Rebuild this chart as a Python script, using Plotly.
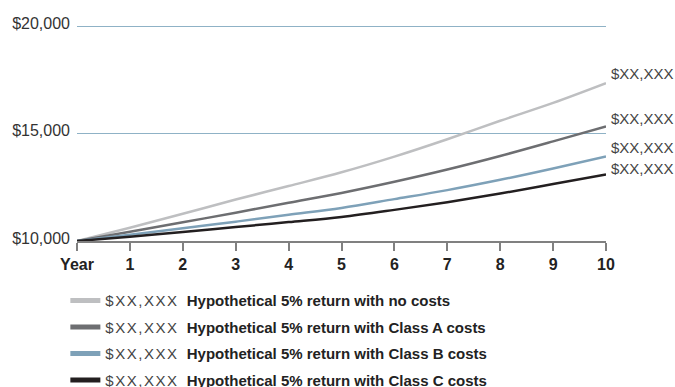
import plotly.graph_objects as go

years = [0, 1, 2, 3, 4, 5, 6, 7, 8, 9, 10]
year_labels = ["Year", "1", "2", "3", "4", "5", "6", "7", "8", "9", "10"]

no_costs = [10000, 10620, 11270, 11930, 12560, 13200, 13930, 14740, 15600, 16430, 17350]
class_a = [10000, 10430, 10870, 11320, 11780, 12240, 12760, 13330, 13960, 14640, 15340]
class_b = [10000, 10290, 10590, 10900, 11220, 11540, 11950, 12370, 12850, 13380, 13940]
class_c = [10000, 10200, 10420, 10650, 10880, 11120, 11450, 11810, 12210, 12650, 13100]

series_names = [
    "Hypothetical 5% return with no costs",
    "Hypothetical 5% return with Class A costs",
    "Hypothetical 5% return with Class B costs",
    "Hypothetical 5% return with Class C costs",
]
end_label = "$XX,XXX"
colors = ["#bebfc1", "#6d6e71", "#7ea1b8", "#231f20"]
label_shifts = [10, 8, 9, 6]

y_ticks = [10000, 15000, 20000]
y_tick_text = ["$10,000", "$15,000", "$20,000"]

FONT = "Liberation Sans, Arial, Helvetica, sans-serif"

fig = go.Figure()
all_series = [no_costs, class_a, class_b, class_c]
for i, (vals, name, col) in enumerate(zip(all_series, series_names, colors)):
    fig.add_trace(go.Scatter(
        x=years, y=vals, mode="lines",
        line=dict(color=col, width=2.5, shape="spline"),
        showlegend=False, hoverinfo="skip",
    ))
    # legend entry (thicker swatch, as in the reference)
    fig.add_trace(go.Scatter(
        x=[None], y=[None], mode="lines",
        line=dict(color=col, width=5),
        name=f"<span style='letter-spacing:1.5px;color:#444'>{end_label}</span>  <b>{name}</b>",
        legendgroup=f"g{i}", showlegend=True, hoverinfo="skip",
    ))
    fig.add_annotation(
        x=years[-1], y=vals[-1], text=end_label, showarrow=False,
        xanchor="left", yanchor="middle", xshift=3, yshift=label_shifts[i],
        font=dict(family=FONT, size=15, color="#444"),
    )

fig.update_layout(
    width=675, height=387,
    margin=dict(l=77, r=69, t=22, b=146, autoexpand=False),
    paper_bgcolor="white", plot_bgcolor="white",
    font=dict(family=FONT, size=15, color="#333"),
    showlegend=True,
    legend=dict(
        x=-0.022, y=-0.198, xanchor="left", yanchor="top",
        orientation="v", tracegroupgap=4,
        font=dict(family=FONT, size=15, color="#222"),
        bgcolor="rgba(0,0,0,0)", itemclick=False, itemdoubleclick=False,
    ),
)
fig.update_xaxes(
    range=[0, 10], tickvals=years, ticktext=year_labels,
    showgrid=False, zeroline=False,
    showline=True, linecolor="#808080", linewidth=1.5,
    ticks="outside", ticklen=8, tickwidth=1.5, tickcolor="#808080",
    ticklabelstandoff=0,
    tickfont=dict(family=FONT, size=16, color="#222", weight="bold"),
)
fig.update_yaxes(
    range=[10000, 20200], tickvals=y_ticks, ticktext=y_tick_text,
    showgrid=True, gridcolor="#8fb2c6", gridwidth=1,
    zeroline=False, showline=False, ticks="",
    ticklabelstandoff=6, ticklabelshift=-3, automargin=False,
    tickfont=dict(family=FONT, size=16, color="#333"),
)

fig.write_html(
    "out.html",
    config={"displayModeBar": False},
    post_script="document.body.style.margin='0';document.body.style.overflow='hidden';",
)
